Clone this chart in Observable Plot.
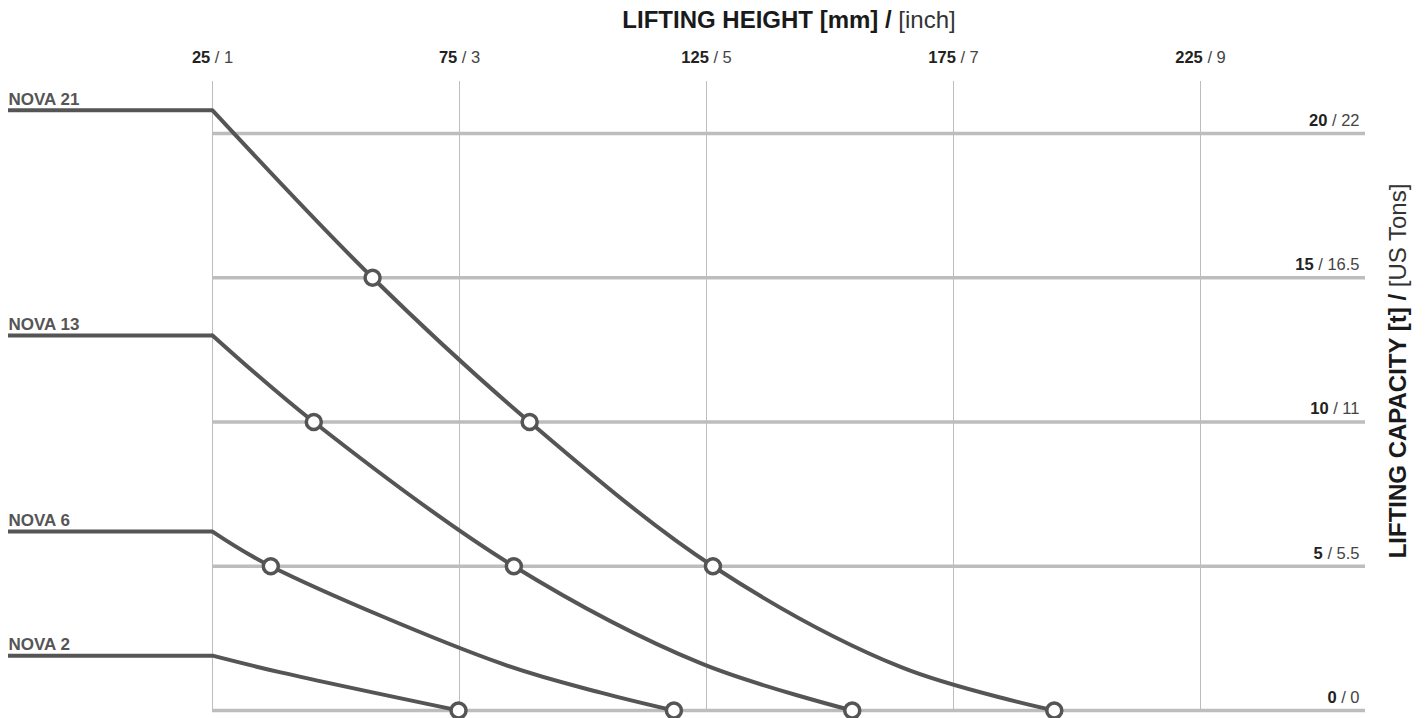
<!DOCTYPE html>
<html>
<head>
<meta charset="utf-8">
<script src="https://cdn.jsdelivr.net/npm/d3@7"></script>
<script src="https://cdn.jsdelivr.net/npm/@observablehq/plot@0.6"></script>
<style>
  html, body { margin: 0; padding: 0; background: #fff; }
  #chart svg { display: block; }
</style>
</head>
<body>
<div id="chart"></div>
<script>
// ---- data ----
const models = ["NOVA 21", "NOVA 13", "NOVA 6", "NOVA 2"];
const ratedCapacity = [20.8, 13, 6.2, 1.9];

const curveHeights = [
  [25, 57.4, 89.2, 126.3, 164.4, 195.4],
  [25, 45.5, 86.0, 123.9, 154.5],
  [25, 36.8, 83.4, 103.6, 118.4],
  [25, 38.8, 74.8]
];
const curveCapacities = [
  [20.8, 15, 10, 5, 1.5, 0],
  [13, 10, 5, 1.63, 0],
  [6.2, 5, 1.63, 0.62, 0],
  [1.9, 1.32, 0]
];
const markerHeights = [
  [57.4, 89.2, 126.3, 195.4],
  [45.5, 86.0, 154.5],
  [36.8, 118.4],
  [74.8]
];
const markerCapacities = [
  [15, 10, 5, 0],
  [10, 5, 0],
  [5, 0],
  [0]
];

const xTicks = [25, 75, 125, 175, 225];
const xTickInch = ["1", "3", "5", "7", "9"];
const yTicks = [0, 5, 10, 15, 20];
const yTickUS = ["0", "5.5", "11", "16.5", "22"];

const xTitle = "LIFTING HEIGHT [mm] / [inch]";
const yTitle = "LIFTING CAPACITY [t] / [US Tons]";

const xDomain = [-16.3, 258.4];
const yDomain = [0, 21.8];

// ---- tables built from arrays ----
const curves = models.flatMap((m, i) => curveHeights[i].map((h, j) => ({model: m, h, t: curveCapacities[i][j]})));
const markers = models.flatMap((m, i) => markerHeights[i].map((h, j) => ({model: m, h, t: markerCapacities[i][j]})));
const flats = models.map((m, i) => ({model: m, t: ratedCapacity[i]}));
const xLabels = xTicks.map((v, i) => ({v, label: `${v} / ${xTickInch[i]}`}));
const yLabels = yTicks.map((v, i) => ({v, label: `${v} / ${yTickUS[i]}`}));

const LINE = "#555555";
const GRID = "#bdbdc0";

const plot = Plot.plot({
  width: 1425,
  height: 718,
  marginLeft: 8,
  marginRight: 60,
  marginTop: 81,
  marginBottom: 8,
  style: {fontFamily: "'Liberation Sans', Arial, sans-serif", background: "#fff", overflow: "visible"},
  x: {domain: xDomain, axis: null},
  y: {domain: yDomain, axis: null},
  marks: [
    Plot.ruleX(xTicks, {x: d => d, stroke: GRID, strokeWidth: 1}),
    Plot.ruleY(yTicks, {y: d => d, x1: xTicks[0], x2: xDomain[1], stroke: GRID, strokeWidth: 3.5}),
    Plot.ruleY(flats, {y: "t", x1: xDomain[0], x2: xTicks[0], stroke: LINE, strokeWidth: 4}),
    Plot.line(curves, {x: "h", y: "t", z: "model", curve: "catmull-rom", stroke: LINE, strokeWidth: 4}),
    Plot.dot(markers, {x: "h", y: "t", r: 7.5, fill: "white", stroke: LINE, strokeWidth: 3.5}),
    Plot.text(flats, {x: xDomain[0], y: "t", text: "model", textAnchor: "start", dy: -11, fontWeight: "bold", fontSize: 17, fill: LINE}),
    Plot.text(xLabels, {x: "v", text: "label", frameAnchor: "top", dy: -30, fontSize: 16.5, fill: "#333"}),
    Plot.text(yLabels, {x: xDomain[1], y: "v", text: "label", textAnchor: "end", dx: -6, dy: -13, fontSize: 16.5, fill: "#333"}),
    Plot.text([xTitle], {text: d => d, frameAnchor: "top", textAnchor: "middle", dx: 102, dy: -71, fontSize: 24, fill: "#1a1a1a"}),
    Plot.text([yTitle], {text: d => d, frameAnchor: "right", textAnchor: "middle", rotate: -90, dx: 33, dy: -25, fontSize: 24, fill: "#1a1a1a"})
  ]
});

// split "bold / regular" text labels into styled tspans
d3.select(plot).selectAll("text").each(function () {
  const t = this.textContent;
  const i = t.indexOf(" / ");
  if (i < 0) return;
  const isTitle = t.startsWith("LIFTING");
  const boldPart = isTitle ? t.slice(0, i + 2) : t.slice(0, i);
  const restPart = isTitle ? t.slice(i + 2) : t.slice(i);
  const sel = d3.select(this);
  sel.text(null);
  sel.append("tspan").attr("font-weight", "bold").attr("fill", isTitle ? "#1a1a1a" : "#222").text(boldPart);
  sel.append("tspan").attr("font-weight", "normal").attr("fill", isTitle ? "#333" : "#444").text(restPart);
});

document.getElementById("chart").appendChild(plot);
</script>
</body>
</html>
